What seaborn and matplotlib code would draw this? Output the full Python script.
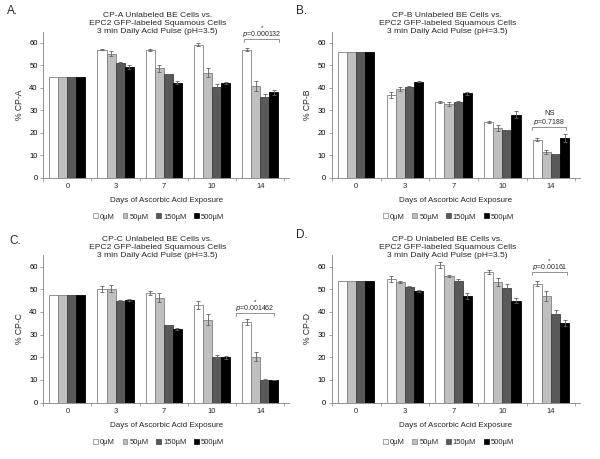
# Figura de 4 paneles: CP-A..CP-D vs. días de exposición a ácido ascórbico
import pandas as pd
import numpy as np
import matplotlib
matplotlib.use('Agg')
import matplotlib.pyplot as plt
from matplotlib.patches import Patch
import seaborn as sns

sns.set_style('white')
plt.rcParams['font.family'] = ['Liberation Sans', 'DejaVu Sans']

days = ['0', '3', '7', '10', '14']
concs = ['0µM', '50µM', '150µM', '500µM']

# valores (una lista por concentración, en orden de días)
cpa = {'0µM': [45, 57, 57, 59.2, 57],
       '50µM': [45, 55.2, 48.7, 46.7, 40.8],
       '150µM': [45, 51, 46, 40.3, 35.8],
       '500µM': [45, 49.2, 42.3, 42, 38]}
cpa_err = {'0µM': [0, 0.3, 0.5, 0.8, 0.6],
           '50µM': [0, 1.2, 1.5, 2.0, 2.3],
           '150µM': [0, 0.4, 0.3, 1.5, 1.5],
           '500µM': [0, 1.0, 0.8, 0.5, 1.0]}

cpb = {'0µM': [56, 36.8, 33.7, 24.8, 16.8],
       '50µM': [56, 39.5, 32.8, 22.2, 11.6],
       '150µM': [56, 40.3, 33.8, 21.3, 10.4],
       '500µM': [56, 42.7, 37.5, 28, 17.8]}
cpb_err = {'0µM': [0, 1.3, 0.5, 0.5, 0.7],
           '50µM': [0, 1.0, 0.9, 1.3, 0.9],
           '150µM': [0, 0.4, 0.2, 0, 0.3],
           '500µM': [0, 0.3, 0.5, 1.6, 1.8]}

cpc = {'0µM': [47.5, 50, 48.5, 43.2, 35.4],
       '50µM': [47.5, 50.3, 46.3, 36.6, 20.3],
       '150µM': [47.5, 45, 34, 20.3, 10.1],
       '500µM': [47.5, 45.3, 32.5, 19.9, 9.8]}
cpc_err = {'0µM': [0, 1.3, 0.9, 1.8, 1.3],
           '50µM': [0, 1.7, 2.0, 2.5, 2.0],
           '150µM': [0, 0.4, 0.2, 0.6, 0.5],
           '500µM': [0, 0.3, 0.4, 0.5, 0]}

cpd = {'0µM': [53.5, 54.5, 60.5, 57.6, 52.5],
       '50µM': [53.5, 53, 55.8, 53, 46.8],
       '150µM': [53.5, 51, 53.7, 50.7, 39.2],
       '500µM': [53.5, 49.2, 47, 44.9, 35]}
cpd_err = {'0µM': [0, 1.2, 1.3, 1.0, 1.3],
           '50µM': [0, 0.4, 0.6, 1.8, 2.2],
           '150µM': [0, 0.6, 1.0, 1.8, 1.5],
           '500µM': [0, 0.3, 1.2, 1.0, 1.2]}

colores = ['#ffffff', '#bfbfbf', '#595959', '#000000']
bordes = ['#808080', '#808080', '#404040', '#000000']

paneles = [
    ('A.', (0.012, 0.975), 'CP-A', cpa, cpa_err, [0.072, 0.613, 0.41, 0.318], ['*', 'p=0.000132'], (3.67, 4.39, 61.6)),
    ('B.', (0.493, 0.975), 'CP-B', cpb, cpb_err, [0.553, 0.613, 0.414, 0.318], ['NS', 'p=0.7188'], (3.62, 4.31, 22.4)),
    ('C.', (0.015, 0.475), 'CP-C', cpc, cpc_err, [0.072, 0.123, 0.41, 0.321], ['*', 'p=0.001462'], (3.50, 4.28, 39.4)),
    ('D.', (0.493, 0.487), 'CP-D', cpd, cpd_err, [0.553, 0.123, 0.414, 0.321], ['*', 'p=0.00161'], (3.61, 4.33, 57.4)),
]

fig = plt.figure(figsize=(6, 4.59), dpi=100)

for letra, lpos, nombre, vals, errs, pos, textos, brk in paneles:
    ax = fig.add_axes(pos)
    df = pd.DataFrame([{'day': d, 'conc': c, 'value': vals[c][i]}
                       for c in concs for i, d in enumerate(days)])
    sns.barplot(data=df, x='day', y='value', hue='conc', order=days,
                hue_order=concs, palette=colores, width=0.75, errorbar=None,
                ax=ax, legend=False, linewidth=0.6, saturation=1)
    barras = list(ax.containers)
    for k, cont in enumerate(barras):
        for b in cont:
            b.set_edgecolor(bordes[k])
        xs = [b.get_x() + b.get_width() / 2 for b in cont]
        hs = [b.get_height() for b in cont]
        ye = np.array(errs[concs[k]])
        ax.errorbar(xs[1:], hs[1:], yerr=ye[1:], fmt='none', ecolor='#606060',
                    elinewidth=0.6, capsize=1.5, capthick=0.6)

    ax.set_ylim(0, 65)
    ax.set_xlim(-0.5, 4.6)
    ax.set_yticks(range(0, 61, 10))
    ax.set_xticks(np.arange(-0.5, 4.6, 1.0), minor=True)
    ax.tick_params(axis='y', which='major', direction='out', length=2, width=0.5,
                   labelsize=5.5, pad=2, left=True, colors='#808080', labelcolor='black')
    ax.tick_params(axis='x', which='major', length=0, labelsize=5.5, pad=4)
    ax.tick_params(axis='x', which='minor', direction='out', length=2, width=0.5,
                   bottom=True, colors='#808080')
    for s in ['top', 'right']:
        ax.spines[s].set_visible(False)
    for s in ['left', 'bottom']:
        ax.spines[s].set_color('#808080')
        ax.spines[s].set_linewidth(0.6)

    ax.set_ylabel('% ' + nombre, fontsize=6.2, labelpad=4)
    ax.set_xlabel('Days of Ascorbic Acid Exposure', fontsize=5.8, labelpad=5)

    ax.text(0.465, 0.975, nombre + ' Unlabeled BE Cells vs.\nEPC2 GFP-labeled Squamous Cells\n'
            '3 min Daily Acid Pulse (pH=3.5)', transform=ax.transAxes,
            ha='center', va='bottom', fontsize=6.1, linespacing=1.2)
    fig.text(lpos[0], lpos[1], letra, fontsize=8.5, ha='left', va='center')

    # corchete de significancia en el día 14
    x0, x1, yb = brk
    xm = (x0 + x1) / 2
    ax.plot([x0, x0, x1, x1], [yb - 1.2, yb, yb, yb - 1.2], color='#808080',
            lw=0.6, clip_on=False)
    ax.text(xm, yb + 2.2, textos[1].replace('p=', r'$\it{p}$='),
            ha='center', va='center', fontsize=5)
    if textos[0] == '*':
        ax.text(xm, yb + 4.2, '*', ha='center', va='bottom', fontsize=4.5, clip_on=False)
    else:
        ax.text(xm, yb + 6.0, textos[0], ha='center', va='center', fontsize=5.5)

    handles = [Patch(facecolor=colores[i], edgecolor=bordes[i], linewidth=0.5, label=concs[i])
               for i in range(4)]
    ax.legend(handles=handles, loc='center', bbox_to_anchor=(0.47, -0.27), ncol=4,
              frameon=False, fontsize=5.5, handlelength=0.6, handleheight=0.6,
              handletextpad=0.3, columnspacing=1.0)

fig.savefig('out.png', dpi=100)
